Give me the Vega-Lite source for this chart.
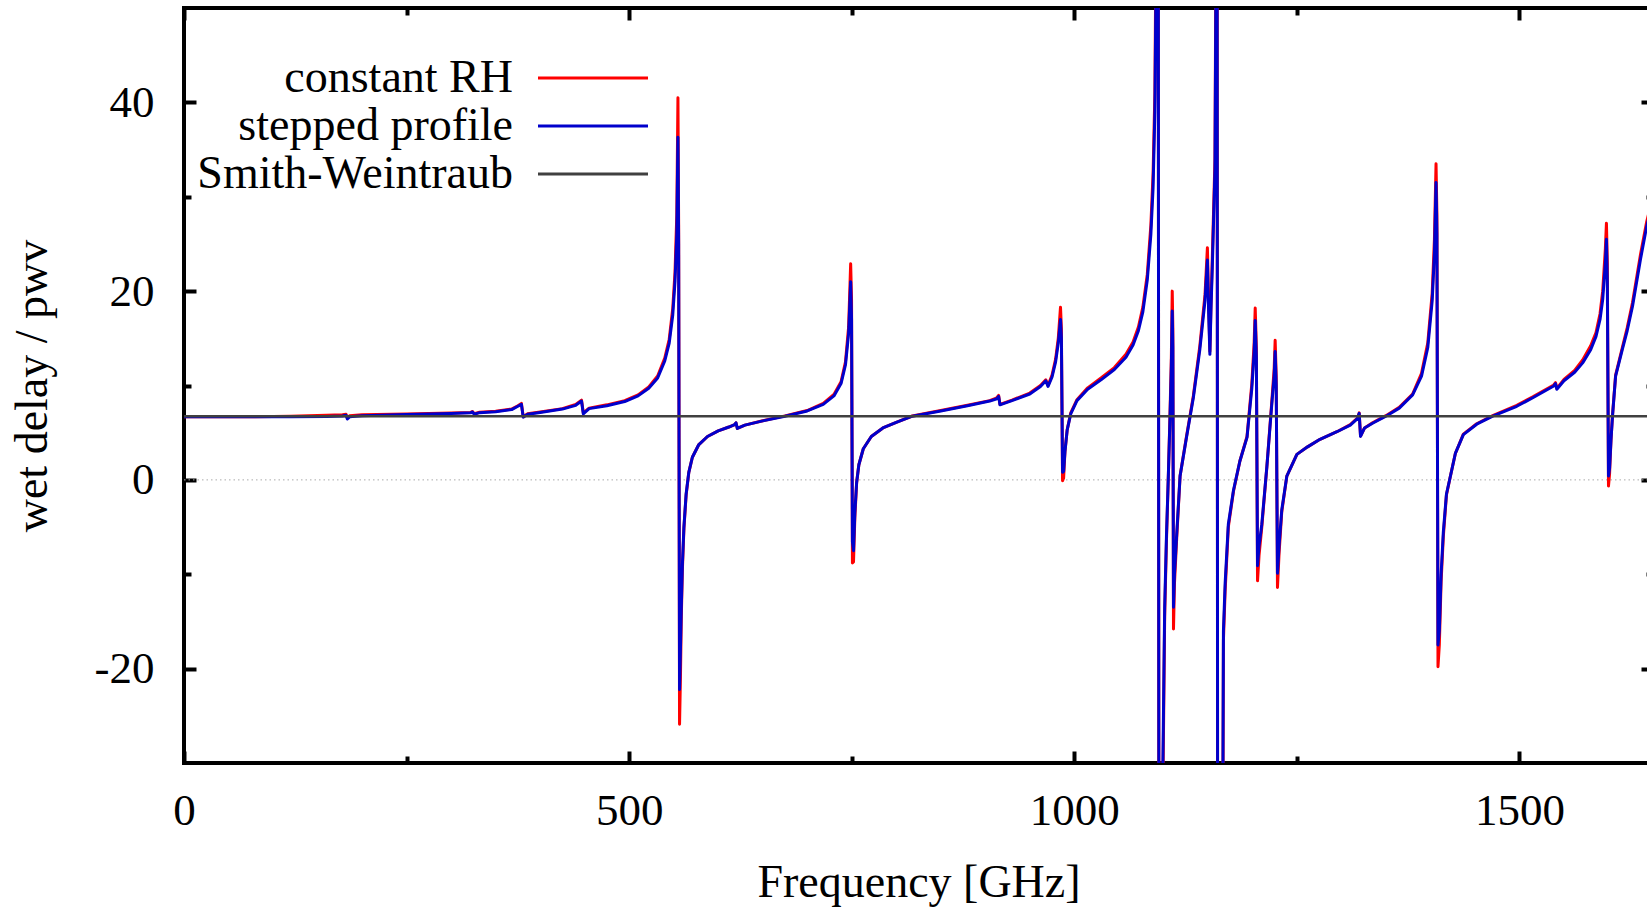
{
  "$schema": "https://vega.github.io/schema/vega-lite/v6.json",
  "width": 1469,
  "height": 755,
  "autosize": "none",
  "padding": {"left": 184, "top": 8, "right": 0, "bottom": 146},
  "background": "white",
  "config": {
    "view": {"stroke": "black", "strokeWidth": 4},
    "font": "Liberation Serif",
    "axis": {
      "domain": false,
      "grid": false,
      "tickColor": "black",
      "tickWidth": 4,
      "labelFont": "Liberation Serif",
      "labelFontSize": 45,
      "labelColor": "black",
      "titleFont": "Liberation Serif",
      "titleFontSize": 46,
      "titleFontWeight": "normal",
      "titleColor": "black",
      "labelFlush": false,
      "labelOverlap": false,
      "labelExpr": "'' + datum.value"
    }
  },
  "datasets": {
    "curves": [
      {"f": 0, "sp": 6.68, "rh": 6.68},
      {"f": 40, "sp": 6.68, "rh": 6.68},
      {"f": 80, "sp": 6.68, "rh": 6.7},
      {"f": 120, "sp": 6.7, "rh": 6.74},
      {"f": 160, "sp": 6.72, "rh": 6.84},
      {"f": 178, "sp": 6.76, "rh": 6.9},
      {"f": 182, "sp": 6.85, "rh": 6.95},
      {"f": 183.5, "sp": 6.45, "rh": 6.55},
      {"f": 186, "sp": 6.68, "rh": 6.8},
      {"f": 200, "sp": 6.8, "rh": 6.9},
      {"f": 250, "sp": 6.92, "rh": 6.98},
      {"f": 300, "sp": 7.02, "rh": 7.08},
      {"f": 322, "sp": 7.1, "rh": 7.15},
      {"f": 324, "sp": 7.2, "rh": 7.25},
      {"f": 326, "sp": 6.95, "rh": 7.0},
      {"f": 332, "sp": 7.12, "rh": 7.16},
      {"f": 350, "sp": 7.22, "rh": 7.26},
      {"f": 368, "sp": 7.45, "rh": 7.5},
      {"f": 375, "sp": 7.8, "rh": 7.85},
      {"f": 379, "sp": 8.0, "rh": 8.1},
      {"f": 381, "sp": 6.65, "rh": 6.7},
      {"f": 386, "sp": 6.95, "rh": 7.0},
      {"f": 400, "sp": 7.15, "rh": 7.2},
      {"f": 425, "sp": 7.5, "rh": 7.55},
      {"f": 440, "sp": 7.9, "rh": 8.0},
      {"f": 446.5, "sp": 8.35, "rh": 8.45},
      {"f": 448.5, "sp": 7.0, "rh": 7.1},
      {"f": 455, "sp": 7.55, "rh": 7.6},
      {"f": 475, "sp": 7.85, "rh": 7.95},
      {"f": 495, "sp": 8.3, "rh": 8.4},
      {"f": 510, "sp": 8.9, "rh": 9.0},
      {"f": 522, "sp": 9.7, "rh": 9.85},
      {"f": 532, "sp": 10.8, "rh": 11.0},
      {"f": 540, "sp": 12.6, "rh": 12.9},
      {"f": 545, "sp": 14.5, "rh": 14.9},
      {"f": 549, "sp": 17.5, "rh": 18.2},
      {"f": 551.5, "sp": 21, "rh": 22},
      {"f": 553.5, "sp": 26, "rh": 28},
      {"f": 554.8, "sp": 36.3, "rh": 40.5},
      {"f": 555.6, "sp": 25, "rh": 27},
      {"f": 556.6, "sp": -22.2, "rh": -25.9},
      {"f": 557.6, "sp": -18, "rh": -21},
      {"f": 558.6, "sp": -13.5, "rh": -14.5},
      {"f": 559.8, "sp": -9, "rh": -9.5},
      {"f": 561.5, "sp": -5, "rh": -5.2},
      {"f": 564, "sp": -1.5, "rh": -1.6},
      {"f": 567, "sp": 0.8, "rh": 0.8},
      {"f": 571, "sp": 2.4, "rh": 2.4},
      {"f": 578, "sp": 3.7, "rh": 3.7},
      {"f": 588, "sp": 4.6, "rh": 4.6},
      {"f": 600, "sp": 5.2, "rh": 5.2},
      {"f": 612, "sp": 5.6, "rh": 5.6},
      {"f": 618.5, "sp": 5.85, "rh": 5.85},
      {"f": 620, "sp": 6.05, "rh": 6.05},
      {"f": 621.5, "sp": 5.45, "rh": 5.45},
      {"f": 630, "sp": 5.8, "rh": 5.8},
      {"f": 650, "sp": 6.25, "rh": 6.27},
      {"f": 675, "sp": 6.75, "rh": 6.78},
      {"f": 700, "sp": 7.3, "rh": 7.35},
      {"f": 718, "sp": 8.0, "rh": 8.1},
      {"f": 730, "sp": 8.9, "rh": 9.05},
      {"f": 738, "sp": 10.2, "rh": 10.4},
      {"f": 743, "sp": 12.2, "rh": 12.5},
      {"f": 746.5, "sp": 15.5, "rh": 16.2},
      {"f": 748.8, "sp": 21, "rh": 22.9},
      {"f": 749.8, "sp": 17, "rh": 19},
      {"f": 750.8, "sp": -6.6, "rh": -8.8},
      {"f": 752, "sp": -7.5, "rh": -8.7},
      {"f": 753.5, "sp": -3.5, "rh": -4},
      {"f": 755.5, "sp": -0.3, "rh": -0.3},
      {"f": 758, "sp": 1.6, "rh": 1.6},
      {"f": 763, "sp": 3.3, "rh": 3.3},
      {"f": 772, "sp": 4.6, "rh": 4.6},
      {"f": 785, "sp": 5.5, "rh": 5.5},
      {"f": 800, "sp": 6.1, "rh": 6.1},
      {"f": 818, "sp": 6.75, "rh": 6.77},
      {"f": 850, "sp": 7.3, "rh": 7.35},
      {"f": 880, "sp": 7.85, "rh": 7.9},
      {"f": 905, "sp": 8.35, "rh": 8.4},
      {"f": 913, "sp": 8.6, "rh": 8.7},
      {"f": 915, "sp": 8.85, "rh": 8.95},
      {"f": 916.5, "sp": 7.95, "rh": 8.0},
      {"f": 930, "sp": 8.4, "rh": 8.45},
      {"f": 950, "sp": 9.1, "rh": 9.2},
      {"f": 962, "sp": 9.9, "rh": 10.0},
      {"f": 968, "sp": 10.5, "rh": 10.6},
      {"f": 970.5, "sp": 9.9, "rh": 10.0},
      {"f": 975, "sp": 10.9, "rh": 11.1},
      {"f": 979, "sp": 12.5, "rh": 12.8},
      {"f": 982, "sp": 14.5, "rh": 15},
      {"f": 984.5, "sp": 17, "rh": 18.3},
      {"f": 985.5, "sp": 15, "rh": 16},
      {"f": 986.8, "sp": 0.8, "rh": -0.1},
      {"f": 988, "sp": 0.9, "rh": 0.2},
      {"f": 989.5, "sp": 3, "rh": 3},
      {"f": 992, "sp": 5.3, "rh": 5.3},
      {"f": 996, "sp": 7, "rh": 7.1},
      {"f": 1003, "sp": 8.4, "rh": 8.5},
      {"f": 1015, "sp": 9.6, "rh": 9.75},
      {"f": 1030, "sp": 10.6, "rh": 10.8},
      {"f": 1045, "sp": 11.7, "rh": 11.9},
      {"f": 1058, "sp": 13.0, "rh": 13.3},
      {"f": 1066, "sp": 14.3, "rh": 14.6},
      {"f": 1072, "sp": 15.8, "rh": 16.2},
      {"f": 1077, "sp": 17.8, "rh": 18.3},
      {"f": 1082, "sp": 21.2, "rh": 21.8},
      {"f": 1086, "sp": 26, "rh": 27},
      {"f": 1088.5, "sp": 31, "rh": 32.5},
      {"f": 1090.5, "sp": 39, "rh": 41},
      {"f": 1092, "sp": 55, "rh": 60},
      {"f": 1094, "sp": 100, "rh": 110},
      {"f": 1095.3, "sp": -80, "rh": -90},
      {"f": 1097.5, "sp": -70, "rh": -80},
      {"f": 1099.5, "sp": -30, "rh": -33},
      {"f": 1101.5, "sp": -13.5, "rh": -14.5},
      {"f": 1103.5, "sp": -6, "rh": -6.5},
      {"f": 1105.5, "sp": 0, "rh": 0},
      {"f": 1107.5, "sp": 6.6, "rh": 7},
      {"f": 1109, "sp": 12, "rh": 13},
      {"f": 1110, "sp": 17.9, "rh": 20},
      {"f": 1110.7, "sp": 14, "rh": 16},
      {"f": 1111.4, "sp": -13.5, "rh": -15.8},
      {"f": 1112.5, "sp": -10, "rh": -11},
      {"f": 1115, "sp": -5.8, "rh": -6.2},
      {"f": 1118.8, "sp": 0.4, "rh": 0.4},
      {"f": 1126, "sp": 4.5, "rh": 4.6},
      {"f": 1133.7, "sp": 8.7, "rh": 8.9},
      {"f": 1141, "sp": 13.8, "rh": 14.2},
      {"f": 1146.8, "sp": 19, "rh": 19.6},
      {"f": 1149.5, "sp": 23.3, "rh": 24.6},
      {"f": 1150.8, "sp": 18, "rh": 19},
      {"f": 1152.3, "sp": 13.3, "rh": 13.6},
      {"f": 1153.5, "sp": 18, "rh": 18.5},
      {"f": 1155, "sp": 22.5, "rh": 23.5},
      {"f": 1158, "sp": 32.9, "rh": 34},
      {"f": 1159.5, "sp": 60, "rh": 65},
      {"f": 1160.2, "sp": 100, "rh": 110},
      {"f": 1161.2, "sp": -80, "rh": -90},
      {"f": 1165.5, "sp": -70, "rh": -80},
      {"f": 1167.5, "sp": -16, "rh": -17},
      {"f": 1169.4, "sp": -11, "rh": -11.8},
      {"f": 1173, "sp": -4.7, "rh": -5},
      {"f": 1178.8, "sp": -1.1, "rh": -1.2},
      {"f": 1186, "sp": 2, "rh": 2},
      {"f": 1194, "sp": 4.5, "rh": 4.6},
      {"f": 1199.4, "sp": 9.7, "rh": 10.2},
      {"f": 1202, "sp": 13.5, "rh": 14.5},
      {"f": 1203.2, "sp": 16.9, "rh": 18.2},
      {"f": 1204.5, "sp": 13, "rh": 14},
      {"f": 1205.8, "sp": -9.1, "rh": -10.7},
      {"f": 1207.5, "sp": -7, "rh": -8},
      {"f": 1210.6, "sp": -4.7, "rh": -5},
      {"f": 1216.3, "sp": 1.4, "rh": 1.4},
      {"f": 1221.9, "sp": 8.1, "rh": 8.4},
      {"f": 1224.5, "sp": 11, "rh": 11.8},
      {"f": 1225.6, "sp": 13.6, "rh": 14.8},
      {"f": 1226.8, "sp": 10, "rh": 11},
      {"f": 1228.2, "sp": -9.9, "rh": -11.4},
      {"f": 1230, "sp": -7, "rh": -7.8},
      {"f": 1233, "sp": -3.2, "rh": -3.4},
      {"f": 1238.7, "sp": 0.4, "rh": 0.4},
      {"f": 1250, "sp": 2.7, "rh": 2.7},
      {"f": 1262, "sp": 3.5, "rh": 3.5},
      {"f": 1276, "sp": 4.3, "rh": 4.3},
      {"f": 1295, "sp": 5.1, "rh": 5.1},
      {"f": 1310, "sp": 5.8, "rh": 5.85},
      {"f": 1318, "sp": 6.5, "rh": 6.55},
      {"f": 1320, "sp": 7.05, "rh": 7.1},
      {"f": 1321.5, "sp": 4.6, "rh": 4.65},
      {"f": 1326, "sp": 5.5, "rh": 5.5},
      {"f": 1335, "sp": 6.0, "rh": 6.05},
      {"f": 1350, "sp": 6.75, "rh": 6.8},
      {"f": 1365, "sp": 7.6, "rh": 7.7},
      {"f": 1380, "sp": 9.0, "rh": 9.1},
      {"f": 1390, "sp": 11, "rh": 11.3},
      {"f": 1397, "sp": 14, "rh": 14.5},
      {"f": 1402, "sp": 19, "rh": 19.8},
      {"f": 1404.5, "sp": 24, "rh": 25.5},
      {"f": 1406.3, "sp": 31.5, "rh": 33.5},
      {"f": 1407.3, "sp": 26, "rh": 28},
      {"f": 1408.5, "sp": -17.5, "rh": -19.8},
      {"f": 1410, "sp": -16, "rh": -17.5},
      {"f": 1412, "sp": -10, "rh": -10.8},
      {"f": 1414.5, "sp": -5.5, "rh": -6},
      {"f": 1418, "sp": -1.5, "rh": -1.6},
      {"f": 1422, "sp": 0.2, "rh": 0.2},
      {"f": 1428, "sp": 2.8, "rh": 2.8},
      {"f": 1437, "sp": 4.8, "rh": 4.85},
      {"f": 1452, "sp": 5.9, "rh": 5.95},
      {"f": 1470, "sp": 6.75, "rh": 6.8},
      {"f": 1497, "sp": 7.8, "rh": 7.9},
      {"f": 1515, "sp": 8.7, "rh": 8.8},
      {"f": 1530, "sp": 9.5, "rh": 9.6},
      {"f": 1538.5, "sp": 9.95, "rh": 10.05},
      {"f": 1540.5, "sp": 10.2, "rh": 10.3},
      {"f": 1542, "sp": 9.6, "rh": 9.7},
      {"f": 1550, "sp": 10.5, "rh": 10.65},
      {"f": 1562, "sp": 11.4, "rh": 11.6},
      {"f": 1571, "sp": 12.4, "rh": 12.7},
      {"f": 1580, "sp": 13.8, "rh": 14.2},
      {"f": 1586, "sp": 15.2, "rh": 15.6},
      {"f": 1590.5, "sp": 17, "rh": 17.6},
      {"f": 1593.5, "sp": 19.1, "rh": 20},
      {"f": 1596.5, "sp": 23, "rh": 24.5},
      {"f": 1597.7, "sp": 25.5, "rh": 27.2},
      {"f": 1598.7, "sp": 21, "rh": 23},
      {"f": 1600, "sp": 0.4, "rh": -0.65},
      {"f": 1601.2, "sp": 1.2, "rh": 0.6},
      {"f": 1602.8, "sp": 4.2, "rh": 4.2},
      {"f": 1604.5, "sp": 6.75, "rh": 6.8},
      {"f": 1608, "sp": 11, "rh": 11.1},
      {"f": 1615.5, "sp": 13.8, "rh": 14},
      {"f": 1621, "sp": 15.8, "rh": 16.1},
      {"f": 1627, "sp": 18.4, "rh": 18.8},
      {"f": 1636, "sp": 23.4, "rh": 23.9},
      {"f": 1643, "sp": 26.9, "rh": 27.4},
      {"f": 1650, "sp": 29.5, "rh": 30}
    ],
    "sw": [
      {"f": 0, "v": 6.75},
      {"f": 1650, "v": 6.75}
    ],
    "zero": [
      {"f": 0, "v": 0},
      {"f": 1650, "v": 0}
    ]
  },
  "layer": [
    {
      "data": {"name": "zero"},
      "mark": {"type": "line", "color": "#aaaaaa", "strokeWidth": 1, "strokeDash": [1.5, 3], "clip": true},
      "encoding": {
        "x": {"field": "f", "type": "quantitative", "scale": {"domain": [0, 1650], "nice": false, "zero": false},
              "axis": {"orient": "top", "values": [250, 750, 1250], "tickSize": -7, "labels": false, "title": null}},
        "y": {"field": "v", "type": "quantitative", "scale": {"domain": [-30, 50], "nice": false, "zero": false},
              "axis": {"orient": "right", "values": [-10, 10, 30], "tickSize": -7, "labels": false, "title": null}}
      }
    },
    {
      "data": {"name": "curves"},
      "mark": {"type": "line", "strokeWidth": 3, "clip": true, "strokeJoin": "round"},
      "encoding": {
        "x": {"field": "f", "type": "quantitative",
              "axis": {"orient": "bottom", "values": [0, 500, 1000, 1500], "tickSize": -12, "labelPadding": 37, "title": "Frequency [GHz]", "titlePadding": 27}},
        "y": {"field": "rh", "type": "quantitative",
              "axis": {"orient": "left", "values": [-20, 0, 20, 40], "tickSize": -12, "labelPadding": 42, "title": "wet delay / pwv", "titlePadding": 38}},
        "color": {"datum": "constant RH", "type": "nominal",
                  "scale": {"domain": ["constant RH", "stepped profile", "Smith-Weintraub"], "range": ["#ff0000", "#0000cc", "#404040"]},
                  "legend": {"orient": "none", "legendX": 386, "legendY": 47, "title": null, "padding": 0,
                             "symbolType": "M-5,0H5", "symbolSize": 484, "symbolStrokeWidth": 3,
                             "labelAlign": "right", "labelOffset": -103, "labelFont": "Liberation Serif", "labelFontSize": 46,
                             "labelColor": "black", "labelLimit": 600, "rowPadding": 2}}
      }
    },
    {
      "data": {"name": "curves"},
      "mark": {"type": "line", "strokeWidth": 3, "clip": true, "strokeJoin": "round"},
      "encoding": {
        "x": {"field": "f", "type": "quantitative",
              "axis": {"orient": "top", "values": [0, 500, 1000, 1500], "tickSize": -12, "labels": false, "title": null}},
        "y": {"field": "sp", "type": "quantitative",
              "axis": {"orient": "right", "values": [-20, 0, 20, 40], "tickSize": -12, "labels": false, "title": null}},
        "color": {"datum": "stepped profile", "type": "nominal"}
      }
    },
    {
      "data": {"name": "sw"},
      "mark": {"type": "line", "strokeWidth": 2.5, "clip": true},
      "encoding": {
        "x": {"field": "f", "type": "quantitative",
              "axis": {"orient": "bottom", "values": [250, 750, 1250], "tickSize": -7, "labels": false, "title": null}},
        "y": {"field": "v", "type": "quantitative",
              "axis": {"orient": "left", "values": [-10, 10, 30], "tickSize": -7, "labels": false, "title": null}},
        "color": {"datum": "Smith-Weintraub", "type": "nominal"}
      }
    }
  ],
  "resolve": {"axis": {"x": "independent", "y": "independent"}}
}
